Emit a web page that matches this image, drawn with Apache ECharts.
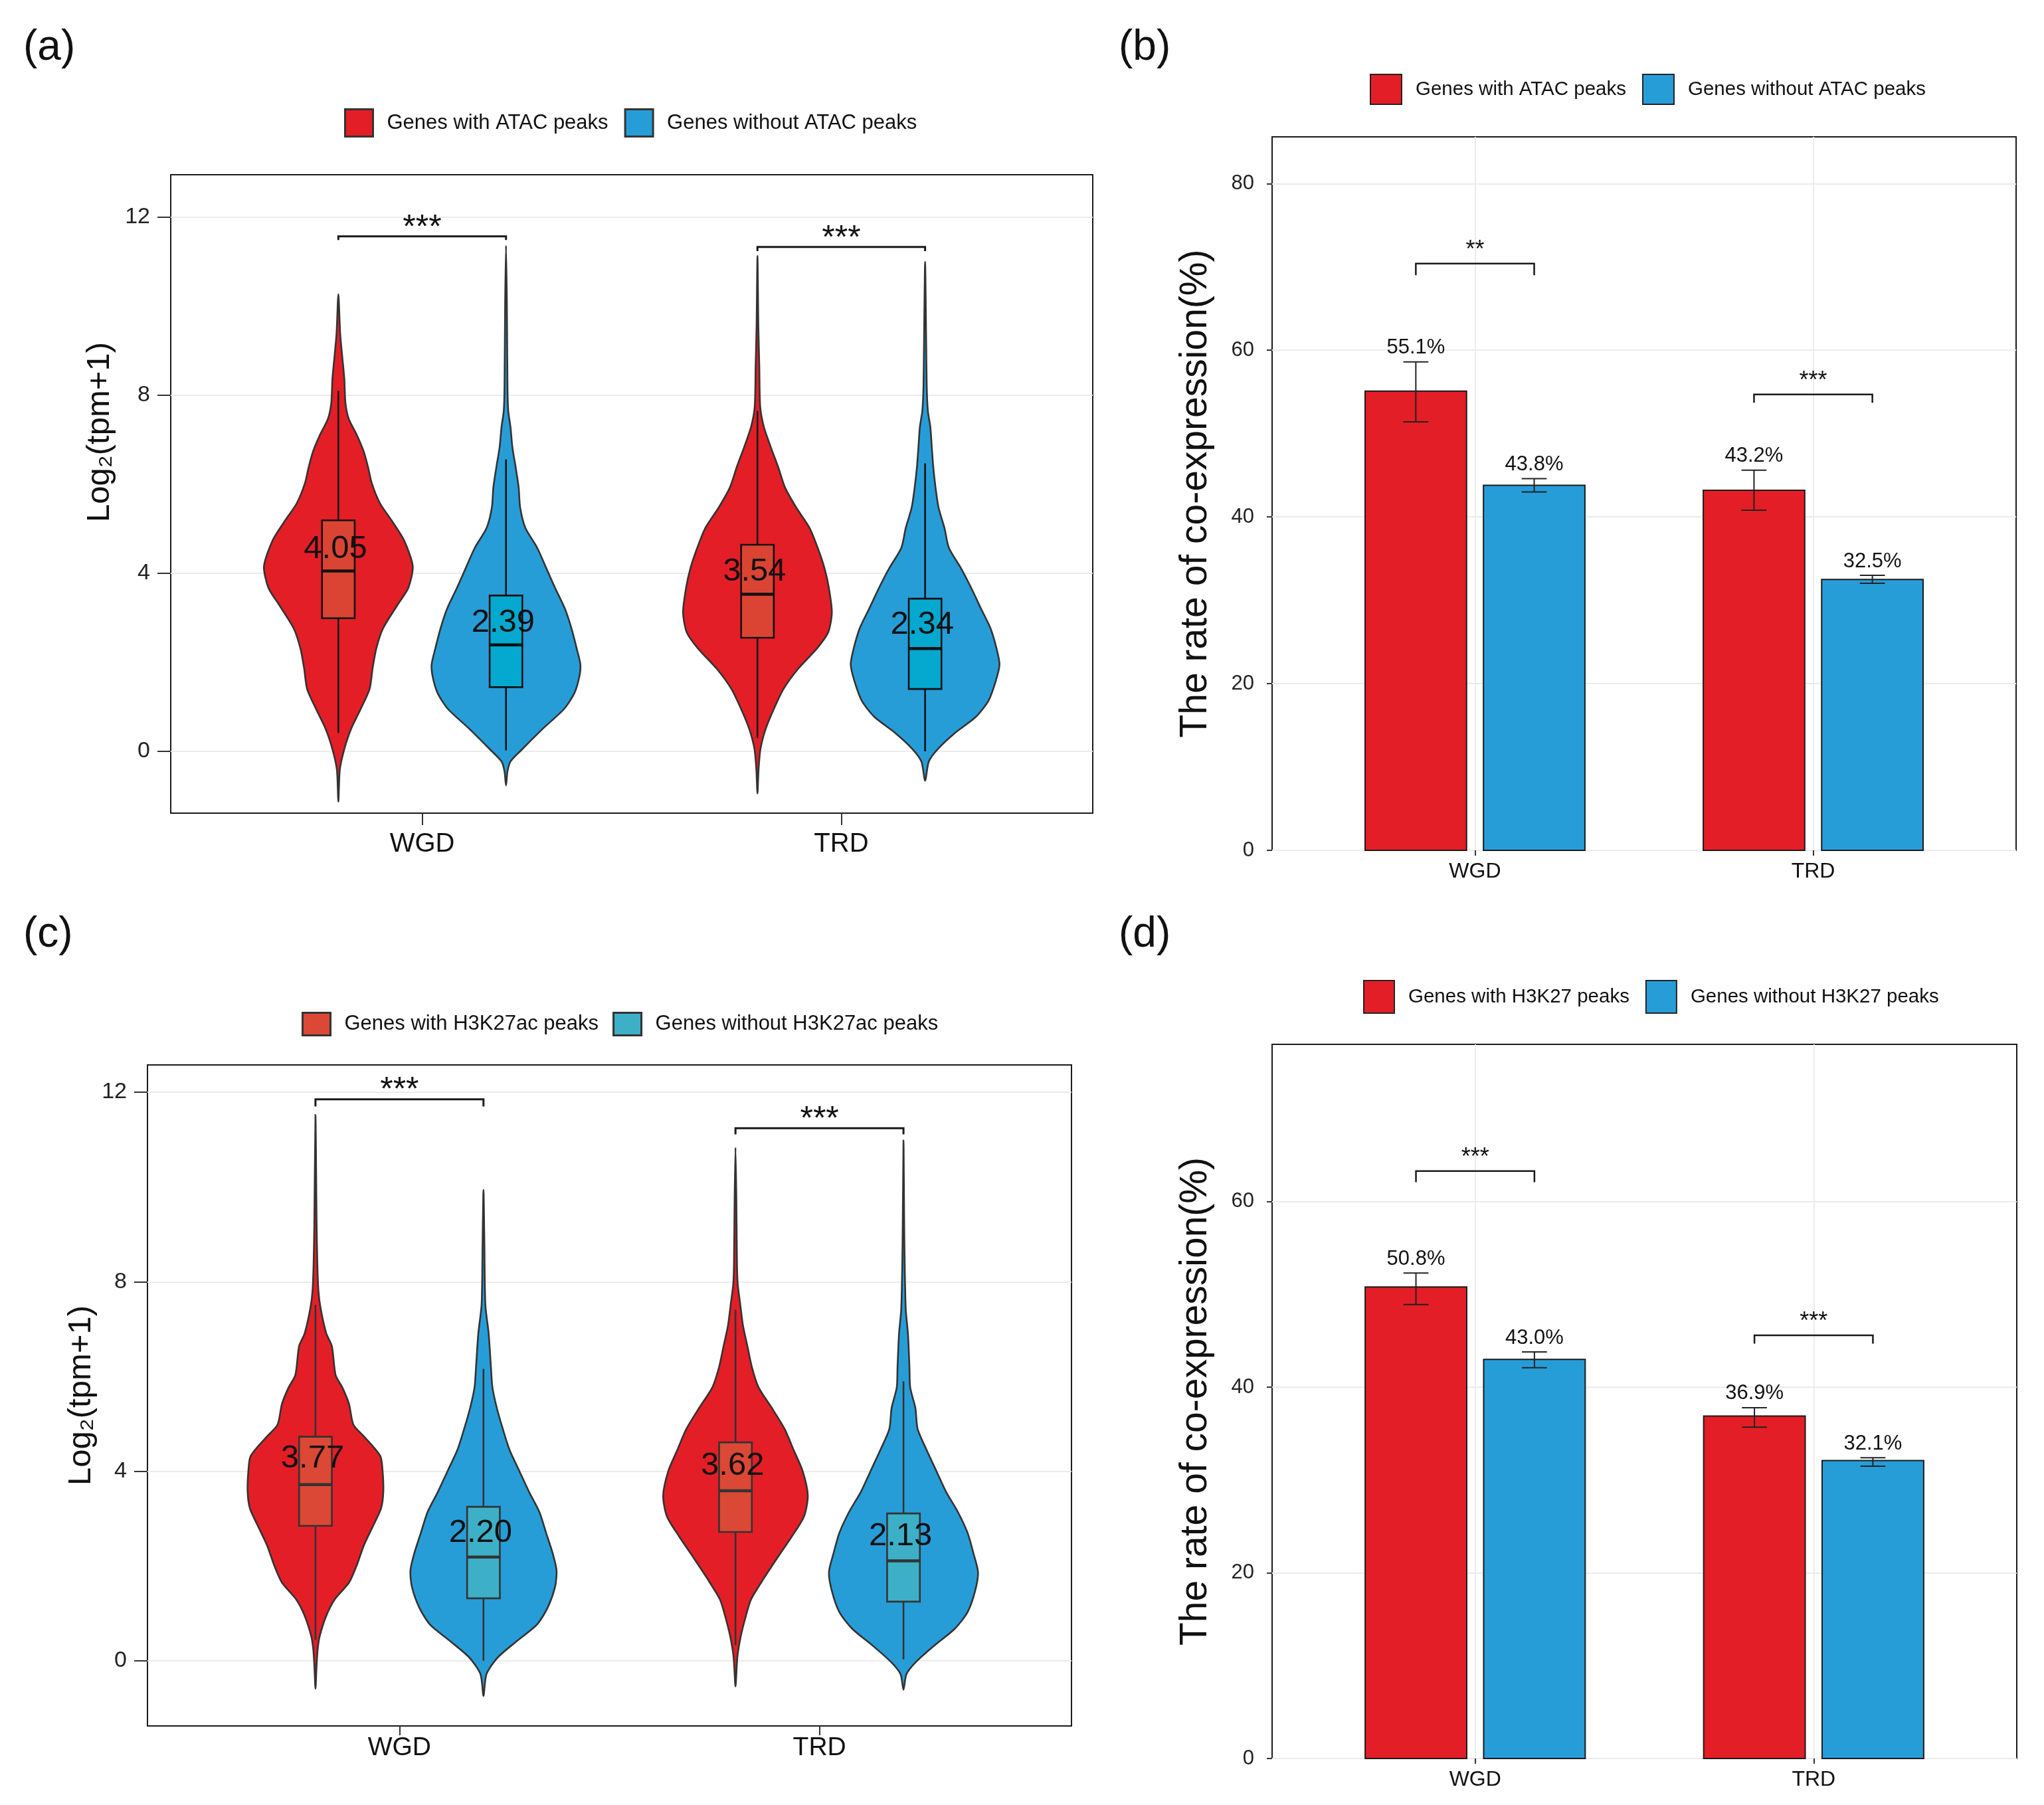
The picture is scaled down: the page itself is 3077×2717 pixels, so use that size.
<!DOCTYPE html>
<html>
<head>
<meta charset="utf-8">
<title>ATAC / H3K27ac expression and co-expression</title>
<script src="https://cdn.jsdelivr.net/npm/echarts@6/dist/echarts.min.js"></script>
<style>
  html, body { margin: 0; padding: 0; background: #fff; }
  #chart { width: 3077px; height: 2717px; }
</style>
</head>
<body>
<div id="chart"></div>
<script>
// categories
var groups = ["WGD", "TRD"];

// (a) ATAC, violin outlines: [log2(tpm+1), relative half width]
var atacWithWGD = [[-1.13,0],[-0.41,0.02],[0.05,0.08],[0.5,0.17],[0.95,0.3],[1.4,0.42],[1.86,0.46],[2.31,0.51],[2.76,0.6],[3.3,0.8],[3.67,0.94],[4.16,1.0],[4.75,0.88],[5.2,0.71],[5.57,0.56],[6.02,0.45],[6.38,0.4],[6.74,0.34],[7.1,0.25],[7.47,0.14],[7.83,0.095],[8.37,0.08],[8.82,0.055],[9.37,0.025],[10.27,0]];
var atacWithTRD = [[-0.95,0],[-0.41,0.015],[0.05,0.04],[0.5,0.11],[0.95,0.22],[1.4,0.35],[1.86,0.55],[2.31,0.8],[2.67,0.95],[3.12,1.0],[3.67,0.96],[4.12,0.9],[4.57,0.81],[5.02,0.7],[5.48,0.52],[5.93,0.37],[6.38,0.28],[6.83,0.18],[7.29,0.086],[7.74,0.037],[8.64,0.025],[9.55,0.012],[11.13,0]];
var atacWithoutWGD = [[-0.77,0],[-0.45,0.02],[-0.23,0.06],[0.05,0.22],[0.5,0.49],[0.95,0.78],[1.31,0.92],[1.67,0.985],[1.95,1.0],[2.31,0.95],[2.76,0.88],[3.21,0.79],[3.67,0.66],[4.12,0.54],[4.57,0.42],[5.02,0.26],[5.48,0.19],[5.93,0.17],[6.38,0.13],[6.83,0.086],[7.29,0.06],[7.65,0.03],[8.19,0.02],[10.0,0.012],[11.36,0]];
var atacWithoutTRD = [[-0.66,0],[-0.23,0.05],[0.05,0.17],[0.41,0.4],[0.77,0.68],[1.13,0.85],[1.58,0.95],[1.95,1.0],[2.31,0.96],[2.76,0.88],[3.21,0.75],[3.67,0.62],[4.12,0.48],[4.57,0.32],[5.02,0.26],[5.48,0.18],[5.93,0.14],[6.38,0.11],[6.83,0.09],[7.29,0.07],[7.65,0.037],[8.19,0.022],[9.1,0.015],[11.0,0]];
// box stats: [lower whisker, q1, median, q3, upper whisker]
var atacWithBox = [[0.41,2.99,4.05,5.19,8.1],[0.3,2.55,3.53,4.64,7.65]];
var atacWithoutBox = [[0.02,1.44,2.39,3.5,6.56],[0.0,1.4,2.31,3.43,6.47]];
var atacWithMean = [4.05, 3.54];
var atacWithoutMean = [2.39, 2.34];
var atacSigY = [11.57, 11.33];
var atacSigTip = [11.49, 11.24];
var atacSigText = ["***", "***"];

// (b) ATAC, co-expression rate (%)
var atacRateWith = [55.1, 43.2];
var atacRateWithLow = [51.4, 40.8];
var atacRateWithHigh = [58.6, 45.6];
var atacRateWithout = [43.8, 32.5];
var atacRateWithoutLow = [43.0, 32.05];
var atacRateWithoutHigh = [44.6, 33.0];
var atacRateSigY = [70.4, 54.7];
var atacRateSigTip = [69.0, 53.7];
var atacRateSigText = ["**", "***"];

// (c) H3K27ac, violin outlines
var h3WithWGD = [[-0.59,0],[-0.1,0.015],[0.25,0.03],[0.51,0.055],[0.95,0.145],[1.3,0.26],[1.65,0.45],[2.0,0.55],[2.44,0.65],[2.87,0.78],[3.22,0.88],[3.57,0.91],[4.01,0.9],[4.32,0.87],[4.72,0.66],[4.98,0.51],[5.42,0.45],[5.77,0.36],[6.03,0.27],[6.64,0.22],[6.91,0.145],[7.43,0.07],[7.8,0.04],[8.39,0.025],[9.26,0.015],[11.52,0]];
var h3WithTRD = [[-0.54,0],[0.07,0.025],[0.51,0.07],[0.95,0.14],[1.3,0.21],[1.74,0.38],[2.17,0.56],[2.61,0.75],[3.05,0.92],[3.49,0.97],[4.01,0.9],[4.45,0.78],[4.89,0.66],[5.33,0.49],[5.77,0.31],[6.2,0.22],[6.64,0.16],[7.08,0.1],[7.51,0.065],[7.95,0.03],[8.39,0.02],[9.7,0.012],[10.83,0]];
var h3WithoutWGD = [[-0.74,0],[-0.28,0.04],[0.07,0.19],[0.42,0.45],[0.77,0.72],[1.12,0.86],[1.56,0.96],[1.91,0.98],[2.26,0.93],[2.7,0.84],[3.14,0.75],[3.57,0.61],[4.01,0.48],[4.45,0.35],[4.89,0.26],[5.33,0.18],[5.77,0.12],[6.2,0.1],[6.9,0.07],[7.52,0.025],[8.83,0.012],[9.94,0]];
var h3WithoutTRD = [[-0.61,0],[-0.28,0.04],[-0.02,0.17],[0.33,0.42],[0.68,0.69],[1.03,0.86],[1.47,0.96],[1.87,1.0],[2.26,0.94],[2.7,0.86],[3.14,0.73],[3.57,0.57],[4.01,0.44],[4.45,0.31],[4.89,0.19],[5.33,0.16],[5.77,0.09],[6.2,0.08],[6.9,0.06],[7.43,0.03],[8.83,0.012],[10.98,0]];
var h3WithBox = [[0.44,2.85,3.72,4.73,7.51],[0.33,2.72,3.59,4.61,7.41]];
var h3WithoutBox = [[0.0,1.32,2.19,3.25,6.16],[0.03,1.25,2.11,3.11,5.9]];
var h3WithMean = [3.77, 3.62];
var h3WithoutMean = [2.20, 2.13];
var h3SigY = [11.85, 11.24];
var h3SigTip = [11.7, 11.11];
var h3SigText = ["***", "***"];

// (d) H3K27, co-expression rate (%)
var h3RateWith = [50.8, 36.9];
var h3RateWithLow = [48.9, 35.7];
var h3RateWithHigh = [52.3, 37.8];
var h3RateWithout = [43.0, 32.1];
var h3RateWithoutLow = [42.1, 31.5];
var h3RateWithoutHigh = [43.8, 32.4];
var h3RateSigY = [63.3, 45.6];
var h3RateSigTip = [62.1, 44.7];
var h3RateSigText = ["***", "***"];

var logTicks = [0, 4, 8, 12];
var rateTicksB = [0, 20, 40, 60, 80];
var rateTicksD = [0, 20, 40, 60];

// ---- styling
var FONT = "Liberation Sans, Arial, sans-serif";
var RED = "#E41E26";
var BLUE = "#279DD8";
var VW = 0.1775;   // violin half width at relative 1
var BW = 0.039;    // box half width
var DODGE = 0.2;
var BAR_W = 0.3;
var BAR_DODGE = 0.175;
var CAP = 0.037;

var chart = echarts.init(document.getElementById("chart"));

function violinSeries(name, gi, offset, profiles, boxes, means, fill, boxFill, boxStroke) {
  return {
    type: "custom",
    name: name,
    xAxisIndex: gi,
    yAxisIndex: gi,
    itemStyle: { color: fill },
    data: groups.map(function (g, i) { return [i + 1 + offset, boxes[i][2]]; }),
    renderItem: function (params, api) {
      var i = params.dataIndex;
      var cx = api.value(0);
      var prof = profiles[i];
      var pts = [];
      var j;
      for (j = 0; j < prof.length; j++) {
        pts.push(api.coord([cx + VW * prof[j][1], prof[j][0]]));
      }
      for (j = prof.length - 2; j > 0; j--) {
        pts.push(api.coord([cx - VW * prof[j][1], prof[j][0]]));
      }
      var b = boxes[i];
      var wTop = api.coord([cx, b[4]]);
      var wBot = api.coord([cx, b[0]]);
      var bTL = api.coord([cx - BW, b[3]]);
      var bBR = api.coord([cx + BW, b[1]]);
      var med = api.coord([cx, b[2]]);
      var lab = api.coord([cx - 0.007, means[i] + 0.5]);
      return {
        type: "group",
        children: [
          { type: "polygon", shape: { points: pts, smooth: 0.25 },
            style: { fill: fill, stroke: "#333", lineWidth: 2.6 } },
          { type: "line", shape: { x1: wTop[0], y1: wTop[1], x2: wBot[0], y2: wBot[1] },
            style: { stroke: boxStroke, lineWidth: 2.6 } },
          { type: "rect", shape: { x: bTL[0], y: bTL[1], width: bBR[0] - bTL[0], height: bBR[1] - bTL[1] },
            style: { fill: boxFill, stroke: boxStroke, lineWidth: 2.6 } },
          { type: "line", shape: { x1: bTL[0], y1: med[1], x2: bBR[0], y2: med[1] },
            style: { stroke: boxStroke, lineWidth: 4.5 } },
          { type: "text",
            style: { text: means[i].toFixed(2), x: lab[0], y: lab[1], align: "center", verticalAlign: "middle",
                     fontSize: 49, fontFamily: FONT, fill: "#111" } }
        ]
      };
    }
  };
}

function barSeries(name, gi, offset, vals, lo, hi, fill) {
  return {
    type: "custom",
    name: name,
    xAxisIndex: gi,
    yAxisIndex: gi,
    itemStyle: { color: fill },
    data: vals.map(function (v, i) { return [i + 1 + offset, v]; }),
    renderItem: function (params, api) {
      var i = params.dataIndex;
      var x = api.value(0);
      var v = api.value(1);
      var tl = api.coord([x - BAR_W / 2, v]);
      var br = api.coord([x + BAR_W / 2, 0]);
      var eTop = api.coord([x, hi[i]]);
      var eBot = api.coord([x, lo[i]]);
      var cl = api.coord([x - CAP, hi[i]])[0];
      var cr = api.coord([x + CAP, hi[i]])[0];
      return {
        type: "group",
        children: [
          { type: "rect", shape: { x: tl[0], y: tl[1], width: br[0] - tl[0], height: br[1] - tl[1] },
            style: { fill: fill, stroke: "#1a1a1a", lineWidth: 2 } },
          { type: "line", shape: { x1: eTop[0], y1: eTop[1], x2: eBot[0], y2: eBot[1] },
            style: { stroke: "#222", lineWidth: 2 } },
          { type: "line", shape: { x1: cl, y1: eTop[1], x2: cr, y2: eTop[1] },
            style: { stroke: "#222", lineWidth: 2 } },
          { type: "line", shape: { x1: cl, y1: eBot[1], x2: cr, y2: eBot[1] },
            style: { stroke: "#222", lineWidth: 2 } },
          { type: "text",
            style: { text: v.toFixed(1) + "%", x: eTop[0], y: eTop[1] - 21, align: "center", verticalAlign: "middle",
                     fontSize: 31, fontFamily: FONT, fill: "#111" } }
        ]
      };
    }
  };
}

function sigSeries(gi, half, ys, tips, texts, lineW, fontSize, lift) {
  return {
    type: "custom",
    xAxisIndex: gi,
    yAxisIndex: gi,
    silent: true,
    data: groups.map(function (g, i) { return [i + 1, ys[i]]; }),
    renderItem: function (params, api) {
      var i = params.dataIndex;
      var x = api.value(0);
      var l = api.coord([x - half, ys[i]]);
      var r = api.coord([x + half, ys[i]]);
      var t = api.coord([x, tips[i]]);
      return {
        type: "group",
        children: [
          { type: "polyline", shape: { points: [[l[0], t[1]], l, r, [r[0], t[1]]] },
            style: { stroke: "#1a1a1a", lineWidth: lineW, fill: null } },
          { type: "text",
            style: { text: texts[i], x: (l[0] + r[0]) / 2, y: l[1] - lift, align: "center", verticalAlign: "middle",
                     fontSize: fontSize, fontFamily: FONT, fill: "#111" } }
        ]
      };
    }
  };
}

function xAxisFor(gi, fontSize, margin, tickLen, vLines) {
  return {
    type: "value", gridIndex: gi, min: 0.4, max: 2.6,
    axisLine: { show: false, onZero: false },
    axisTick: { show: true, customValues: [1, 2], length: tickLen, lineStyle: { color: "#333", width: 2 } },
    axisLabel: { customValues: [1, 2], formatter: function (v) { return groups[Math.round(v) - 1]; },
                 fontSize: fontSize, fontFamily: FONT, color: "#111", margin: margin },
    splitLine: { show: vLines, lineStyle: { color: "#EBEBEB", width: 2 } }
  };
}

function yAxisFor(gi, min, max, ticks, fontSize, margin, tickLen, name, nameSize, nameGap, nameWeight, namePad) {
  return {
    type: "value", gridIndex: gi, min: min, max: max,
    axisLine: { show: false, onZero: false },
    axisTick: { show: true, customValues: ticks, length: tickLen, lineStyle: { color: "#333", width: 2 } },
    axisLabel: { customValues: ticks, fontSize: fontSize, fontFamily: FONT, color: "#222", margin: margin },
    splitLine: { show: true, lineStyle: { color: "#EBEBEB", width: 2 } },
    name: name, nameLocation: "middle", nameGap: nameGap, nameMoveOverlap: false,
    nameTextStyle: { fontSize: nameSize, fontFamily: FONT, color: "#111", fontWeight: nameWeight, padding: namePad }
  };
}

function gridFor(left, top, width, height) {
  return { left: left, top: top, width: width, height: height, show: true,
           borderColor: "#1a1a1a", borderWidth: 2, backgroundColor: "#fff",
           containLabel: false, outerBoundsMode: "none" };
}

function legendFor(left, top, names, iw, ih, gap, fontSize, pad, styles) {
  return {
    left: left, top: top, orient: "horizontal", itemWidth: iw, itemHeight: ih, itemGap: gap,
    selectedMode: false,
    data: names.map(function (n, i) { return { name: n, icon: "rect", itemStyle: styles[i] }; }),
    textStyle: { fontSize: fontSize, fontFamily: FONT, color: "#111", padding: [0, 0, 0, pad] }
  };
}

var nA = ["Genes with ATAC peaks", "Genes without ATAC peaks"];
var nC = ["Genes with H3K27ac peaks", "Genes without H3K27ac peaks"];
var nD = ["Genes with H3K27 peaks", "Genes without H3K27 peaks"];

var option = {
  animation: false,
  backgroundColor: "#fff",
  textStyle: { fontFamily: FONT },
  grid: [
    gridFor(257, 263, 1388, 961),
    gridFor(1915, 206, 1120, 1074),
    gridFor(222, 1603, 1391, 995),
    gridFor(1915, 1572, 1121, 1075)
  ],
  xAxis: [
    xAxisFor(0, 40, 27, 18, false),
    xAxisFor(1, 32, 16, 8, true),
    xAxisFor(2, 39, 14, 14, false),
    xAxisFor(3, 32, 16, 8, true)
  ],
  yAxis: [
    yAxisFor(0, -1.39, 12.955, logTicks, 34, 31, 20, "Log\u2082(tpm+1)", 49, 82, "normal", [0, 0, 0, 186]),
    yAxisFor(1, 0, 85.6, rateTicksB, 31, 27, 8, "The rate of co-expression(%)", 57, 86, "normal", 0),
    yAxisFor(2, -1.374, 12.575, logTicks, 34, 31, 20, "Log\u2082(tpm+1)", 49, 75, "normal", 0),
    yAxisFor(3, 0, 76.95, rateTicksD, 31, 27, 8, "The rate of co-expression(%)", 57, 86, "normal", 0)
  ],
  legend: [
    legendFor(513, 158, nA, 42, 41, 24, 31, 16, [
      { color: RED, borderColor: "#333", borderWidth: 3 },
      { color: BLUE, borderColor: "#333", borderWidth: 3 }]),
    legendFor(2057, 106, nA, 47, 45, 24, 29.5, 16, [
      { color: RED, borderColor: "#222", borderWidth: 2 },
      { color: BLUE, borderColor: "#222", borderWidth: 2 }]),
    legendFor(449, 1518, nC, 42, 34, 21, 31, 16, [
      { color: "#DC4836", borderColor: "#333", borderWidth: 3 },
      { color: "#3DB0C8", borderColor: "#333", borderWidth: 3 }]),
    legendFor(2047, 1470, nD, 46, 49, 24, 29.5, 16, [
      { color: RED, borderColor: "#222", borderWidth: 2 },
      { color: BLUE, borderColor: "#222", borderWidth: 2 }])
  ],
  graphic: [
    { type: "text", left: 35, top: 40, style: { text: "(a)", fontSize: 64, fontFamily: FONT, fill: "#111" } },
    { type: "text", left: 1684, top: 40, style: { text: "(b)", fontSize: 64, fontFamily: FONT, fill: "#111" } },
    { type: "text", left: 35, top: 1375, style: { text: "(c)", fontSize: 64, fontFamily: FONT, fill: "#111" } },
    { type: "text", left: 1684, top: 1375, style: { text: "(d)", fontSize: 64, fontFamily: FONT, fill: "#111" } }
  ],
  series: [
    violinSeries(nA[0], 0, -DODGE, [atacWithWGD, atacWithTRD], atacWithBox, atacWithMean, RED, "#DB4433", "#111"),
    violinSeries(nA[1], 0, DODGE, [atacWithoutWGD, atacWithoutTRD], atacWithoutBox, atacWithoutMean, BLUE, "#05A8CE", "#111"),
    sigSeries(0, DODGE, atacSigY, atacSigTip, atacSigText, 3, 50, 12),

    barSeries(nA[0], 1, -BAR_DODGE, atacRateWith, atacRateWithLow, atacRateWithHigh, RED),
    barSeries(nA[1], 1, BAR_DODGE, atacRateWithout, atacRateWithoutLow, atacRateWithoutHigh, BLUE),
    sigSeries(1, BAR_DODGE, atacRateSigY, atacRateSigTip, atacRateSigText, 2.5, 36, 20),

    violinSeries(nC[0], 2, -DODGE, [h3WithWGD, h3WithTRD], h3WithBox, h3WithMean, RED, "#DC4836", "#333"),
    violinSeries(nC[1], 2, DODGE, [h3WithoutWGD, h3WithoutTRD], h3WithoutBox, h3WithoutMean, BLUE, "#3DB0C8", "#333"),
    sigSeries(2, DODGE, h3SigY, h3SigTip, h3SigText, 3, 50, 12),

    barSeries(nD[0], 3, -BAR_DODGE, h3RateWith, h3RateWithLow, h3RateWithHigh, RED),
    barSeries(nD[1], 3, BAR_DODGE, h3RateWithout, h3RateWithoutLow, h3RateWithoutHigh, BLUE),
    sigSeries(3, BAR_DODGE, h3RateSigY, h3RateSigTip, h3RateSigText, 2.5, 36, 20)
  ]
};

chart.setOption(option);
</script>
</body>
</html>
